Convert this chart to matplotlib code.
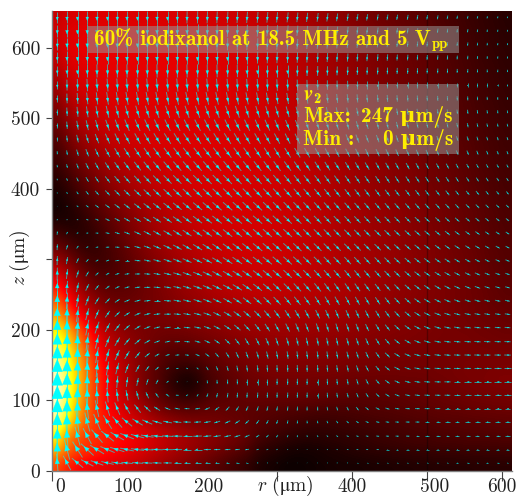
import numpy as np
import matplotlib
matplotlib.use("Agg")
import matplotlib.pyplot as plt
from matplotlib.collections import LineCollection, PolyCollection
from matplotlib.patches import Rectangle
from matplotlib.transforms import ScaledTranslation

plt.rcParams['font.family'] = ['cmr10', 'DejaVu Serif']
plt.rcParams['mathtext.fontset'] = 'cm'
plt.rcParams['axes.formatter.use_mathtext'] = True

# grid of the arrows (um)
r_col = [7, 20, 34, 47, 60, 74, 87, 100, 114, 127, 140, 154, 167, 180, 194, 207, 220, 234, 247, 260, 274, 287, 300,
         314, 327, 340, 354, 367, 380, 394, 407, 420, 434, 447, 460, 474, 487, 500, 514, 527, 540, 554, 567, 580, 594, 607]
z_row = [643, 624, 605, 586, 567, 547, 528, 509, 490, 471, 451, 432, 413, 394, 375, 356, 337,
         317, 298, 279, 260, 241, 222, 203, 183, 164, 145, 126, 107, 88, 69, 49, 30, 11]

# speed in um/s, estimated from colour and arrow length (top row first)
speed_rows = [
    [72,78,80,81,81, 81,81,81,80,80, 80,79,79,78,78, 77,76,75,74,73, 71,69,67,65,63, 60,57,54,51,48, 45,42,39,37,35, 33,31,29,26,24, 22,19,17,15,13, 11],
    [76,82,84,85,85, 85,85,85,84,84, 84,83,83,82,82, 81,80,79,78,77, 75,73,71,69,66, 63,60,57,54,51, 48,45,42,40,37, 35,33,31,28,26, 23,21,18,16,14, 12],
    [74,82,85,86,86, 86,86,86,86,85, 85,85,84,84,83, 82,81,80,79,78, 76,74,72,70,67, 64,61,58,55,52, 49,46,43,41,38, 36,34,32,29,27, 24,22,19,17,15, 13],
    [70,80,84,85,86, 86,86,86,86,85, 85,85,85,84,84, 83,82,81,80,79, 77,75,73,71,68, 65,62,59,56,53, 50,47,44,42,39, 37,35,33,30,28, 25,23,20,18,16, 14],
    [64,76,81,83,84, 85,85,85,85,85, 85,85,85,84,84, 83,82,81,80,79, 78,76,74,72,69, 66,63,60,57,54, 51,48,45,43,40, 38,36,33,31,29, 26,24,21,19,17, 15],
    [57,70,77,80,82, 83,84,84,84,84, 84,84,84,84,84, 83,82,81,80,79, 78,76,74,72,70, 67,64,61,58,55, 52,49,46,44,41, 39,37,34,32,30, 27,25,22,20,18, 16],
    [49,63,71,76,79, 81,82,83,83,83, 83,83,83,83,83, 83,82,81,80,79, 78,76,74,72,70, 67,64,61,58,55, 53,50,47,45,42, 40,38,35,33,31, 28,26,23,21,19, 17],
    [41,55,65,71,75, 78,80,81,82,82, 82,82,82,82,82, 82,82,81,80,79, 78,76,74,72,70, 68,65,62,59,56, 53,50,48,46,43, 41,39,36,34,32, 29,27,24,22,20, 18],
    [34,47,58,65,70, 74,77,79,80,81, 81,81,81,81,81, 81,81,81,80,79, 78,77,75,73,71, 68,65,62,59,57, 54,51,49,47,44, 42,40,37,35,33, 30,28,25,23,21, 19],
    [27,39,50,58,64, 69,73,75,77,79, 80,80,81,81,81, 81,81,81,80,79, 78,77,75,73,71, 68,66,63,60,58, 55,52,50,48,45, 43,41,38,36,34, 31,29,26,24,22, 20],
    [21,31,42,50,57, 63,68,71,74,76, 78,79,80,80,81, 81,81,81,80,79, 78,77,75,73,71, 69,66,63,61,58, 56,53,51,48,46, 44,42,39,37,35, 32,30,27,25,23, 21],
    [16,25,34,43,50, 56,62,66,70,73, 75,77,78,79,80, 80,81,81,80,79, 78,77,76,74,72, 69,67,64,61,59, 56,54,52,49,47, 45,43,40,38,36, 33,31,28,26,24, 22],
    [11,18,27,35,43, 50,56,61,65,69, 72,74,76,78,79, 80,80,80,80,79, 78,77,76,74,72, 70,67,65,62,60, 57,55,52,50,48, 46,44,41,39,37, 34,32,29,27,25, 23],
    [6,12,20,28,36, 43,49,55,60,64, 68,71,74,76,77, 78,79,80,79,79, 78,77,76,74,72, 70,68,65,63,60, 58,56,53,51,49, 47,45,42,40,38, 35,33,31,28,26, 24],
    [2,7,14,21,29, 36,43,49,55,60, 64,68,71,73,75, 77,78,79,79,79, 78,77,76,74,73, 70,68,66,63,61, 58,56,54,52,50, 48,46,43,41,39, 36,34,32,29,27, 25],
    [9,7,10,16,23, 30,37,44,50,56, 61,65,68,71,73, 75,77,78,78,78, 78,77,76,74,73, 71,69,66,64,61, 59,57,55,53,51, 49,47,44,42,40, 37,35,33,30,28, 26],
    [22,16,12,13,18, 25,32,39,46,52, 57,61,65,68,71, 73,75,76,77,78, 78,77,76,75,73, 71,69,67,64,62, 60,58,56,54,52, 50,48,45,43,41, 38,36,34,31,29, 27],
    [38,30,21,16,17, 22,28,34,41,47, 53,58,62,65,68, 71,73,75,76,77, 77,77,76,75,73, 71,69,67,65,63, 61,59,57,55,53, 50,48,46,44,41, 39,37,35,32,30, 28],
    [58,46,33,24,20, 22,26,31,37,43, 48,53,58,62,65, 68,71,73,75,76, 76,76,75,74,73, 71,69,67,65,63, 61,59,57,55,53, 51,49,47,44,42, 40,38,36,33,31, 29],
    [82,64,47,35,27, 25,27,30,34,39, 44,49,54,58,62, 65,68,70,72,73, 74,74,74,73,72, 70,68,67,65,63, 61,59,57,55,53, 51,49,47,45,43, 41,39,37,34,32, 30],
    [105,84,62,47,37, 32,31,32,35,39, 43,47,51,55,58, 62,65,67,69,70, 71,71,71,70,69, 68,67,65,63,62, 60,58,56,54,52, 50,49,47,45,43, 41,39,37,35,33, 31],
    [132,106,80,62,49, 41,37,37,38,40, 42,45,48,51,54, 57,60,62,64,66, 67,67,67,67,66, 65,64,63,61,60, 58,56,55,53,51, 50,48,46,45,43, 41,39,38,36,34, 33],
    [160,128,100,79,62, 51,45,42,41,41, 42,43,45,47,49, 52,54,57,59,60, 61,62,62,62,61, 60,60,59,58,56, 55,53,52,50,49, 48,46,45,44,42, 41,40,38,37,36, 35],
    [190,165,130,102,80, 63,54,48,44,42, 41,40,41,42,44, 46,48,51,53,55, 56,57,57,57,57, 56,56,55,54,53, 52,50,49,48,47, 46,45,44,43,42, 41,41,40,39,38, 37],
    [210,185,150,118,92, 74,62,54,48,42, 38,35,34,35,37, 40,42,45,47,49, 50,51,52,52,52, 52,51,51,50,49, 48,47,46,45,44, 44,43,43,42,42, 42,42,41,41,40, 40],
    [228,200,165,130,104, 83,70,58,49,41, 33,27,25,25,28, 32,35,39,42,44, 46,47,48,48,48, 48,47,47,46,45, 44,44,43,43,42, 42,42,41,41,41, 42,42,42,42,42, 42],
    [238,210,172,137,110, 90,76,62,50,38, 30,22,16,13,16, 25,30,34,37,40, 42,43,44,44,44, 44,44,43,43,42, 41,41,40,40,40, 40,40,40,41,41, 42,43,43,43,44, 44],
    [245,215,175,140,112, 92,78,64,52,38, 30,18,8,2,8, 20,26,30,33,36, 38,39,40,40,40, 40,39,39,38,37, 36,36,36,36,36, 37,37,38,39,40, 41,42,43,44,45, 45],
    [247,212,172,138,112, 93,80,68,56,43, 34,26,19,15,18, 25,29,31,33,34, 35,35,35,35,35, 35,34,33,32,31, 30,30,31,31,32, 33,34,35,36,37, 38,39,40,41,41, 42],
    [240,205,165,133,110, 96,86,76,66,55, 45,38,34,32,33, 35,35,34,33,32, 31,30,29,28,27, 26,25,24,25,25, 26,27,28,28,29, 30,31,32,33,34, 34,35,36,36,37, 37],
    [222,188,152,127,112, 102,94,86,78,70, 63,57,52,48,45, 43,41,38,36,33, 30,27,25,22,20, 18,17,17,18,19, 20,21,22,23,24, 25,26,27,28,29, 29,30,30,31,31, 32],
    [192,148,126,115,110, 105,100,94,88,82, 76,70,64,59,55, 51,47,43,39,34, 25,21,18,15,13, 12,12,13,14,15, 16,17,19,20,21, 22,23,23,24,25, 25,26,26,26,27, 27],
    [165,135,120,112,106, 100,96,90,84,78, 72,66,61,56,51, 46,41,36,31,26, 16,12,9,6,4, 4,5,7,8,10, 12,13,14,15,16, 17,18,18,19,19, 19,20,20,20,20, 21],
    [120,105,95,90,86, 82,78,74,70,64, 58,53,48,43,38, 33,28,23,19,15, 8,5,3,1,1, 2,3,4,5,5, 5,6,7,7,8, 8,9,9,10,10, 10,10,11,11,11, 11],
]

# arrow direction on screen in degrees, 0 = towards +r, 90 = towards +z
angle_rows = [
    [-90,-90,-90,-90,-90, -90,-90,-90,-90,-90, -90,-90,-90,-91,-91, -92,-92,-93,-93,-94, -94,-95,-95,-96,-96, -97,-97,-98,-98,-98, -99,-99,-99,-100,-100, -100,-100,-100,-100,-100, -100,-100,-100,-100,-100, -100],
    [-90,-90,-90,-90,-90, -90,-90,-90,-90,-90, -90,-90,-90,-90,-90, -91,-91,-92,-92,-93, -93,-94,-94,-95,-95, -96,-96,-96,-97,-97, -97,-97,-98,-98,-98, -98,-98,-98,-98,-98, -98,-98,-98,-98,-98, -98],
    [-90,-90,-90,-90,-90, -90,-90,-90,-90,-90, -90,-90,-90,-90,-90, -90,-91,-91,-91,-92, -92,-93,-93,-94,-94, -94,-95,-95,-95,-96, -96,-96,-96,-96,-96, -96,-96,-96,-96,-96, -96,-96,-96,-96,-96, -96],
    [-90,-90,-90,-90,-90, -90,-90,-90,-90,-90, -90,-90,-90,-90,-90, -90,-90,-90,-90,-90, -91,-91,-92,-92,-92, -93,-93,-93,-94,-94, -94,-94,-94,-94,-94, -94,-94,-94,-94,-94, -94,-94,-94,-94,-94, -94],
    [-90,-90,-90,-90,-89, -89,-89,-89,-89,-89, -89,-89,-89,-89,-89, -89,-89,-89,-89,-90, -90,-90,-90,-90,-91, -91,-91,-91,-92,-92, -92,-92,-92,-92,-92, -92,-92,-92,-92,-92, -92,-92,-92,-92,-92, -92],
    [-90,-89,-88,-87,-86, -86,-86,-86,-85,-85, -85,-85,-85,-85,-85, -85,-85,-85,-86,-86, -86,-87,-87,-87,-88, -88,-88,-89,-89,-89, -90,-90,-90,-90,-90, -90,-90,-90,-90,-90, -90,-90,-90,-90,-90, -90],
    [-90,-88,-86,-84,-83, -82,-81,-80,-80,-79, -79,-79,-79,-78,-78, -78,-78,-79,-79,-79, -80,-80,-81,-81,-82, -82,-83,-83,-84,-84, -85,-85,-85,-86,-86, -86,-87,-87,-87,-87, -87,-87,-88,-88,-88, -88],
    [-90,-87,-84,-81,-79, -77,-75,-74,-73,-72, -72,-71,-71,-71,-70, -70,-70,-71,-71,-72, -72,-73,-73,-74,-75, -75,-76,-77,-78,-78, -79,-79,-80,-80,-81, -81,-82,-82,-82,-83, -83,-83,-83,-84,-84, -84],
    [-90,-85,-80,-77,-74, -71,-69,-68,-66,-65, -65,-64,-64,-63,-63, -63,-63,-64,-64,-65, -66,-66,-67,-68,-69, -70,-71,-72,-72,-73, -74,-74,-75,-75,-76, -76,-77,-77,-77,-78, -78,-78,-78,-78,-79, -79],
    [-90,-83,-77,-72,-69, -66,-64,-62,-61,-60, -59,-58,-58,-57,-57, -57,-58,-58,-59,-60, -60,-61,-62,-63,-64, -65,-66,-66,-67,-68, -69,-69,-70,-70,-71, -71,-71,-72,-72,-72, -73,-73,-73,-73,-73, -73],
    [-88,-80,-73,-68,-64, -61,-59,-57,-56,-55, -54,-53,-53,-52,-52, -52,-53,-53,-54,-55, -56,-57,-58,-58,-59, -60,-61,-62,-63,-63, -64,-65,-65,-65,-66, -66,-67,-67,-67,-67, -67,-68,-68,-68,-68, -68],
    [-85,-76,-69,-63,-60, -57,-55,-53,-52,-51, -50,-49,-49,-49,-49, -49,-49,-50,-50,-51, -52,-53,-54,-54,-55, -56,-57,-58,-58,-59, -60,-60,-61,-61,-61, -62,-62,-62,-62,-62, -62,-62,-62,-62,-62, -62],
    [-78,-70,-63,-58,-55, -52,-50,-49,-48,-47, -46,-46,-46,-45,-45, -46,-46,-46,-47,-48, -48,-49,-50,-51,-52, -52,-53,-54,-55,-55, -56,-56,-57,-57,-57, -57,-57,-57,-57,-57, -57,-57,-56,-56,-56, -56],
    [-65,-58,-54,-50,-48, -46,-45,-44,-43,-43, -43,-43,-43,-43,-43, -43,-43,-44,-44,-45, -46,-46,-47,-48,-49, -49,-50,-51,-51,-52, -52,-53,-53,-53,-53, -53,-53,-53,-52,-52, -52,-51,-51,-51,-51, -50],
    [-40,-38,-38,-37,-37, -37,-37,-37,-38,-38, -38,-39,-39,-40,-40, -40,-41,-41,-42,-43, -43,-44,-45,-46,-46, -47,-48,-48,-49,-49, -49,-50,-50,-50,-49, -49,-49,-48,-48,-47, -47,-46,-46,-45,-45, -44],
    [60,-5,-18,-22,-24, -26,-28,-30,-31,-33, -34,-35,-36,-37,-38, -38,-39,-40,-40,-41, -41,-42,-43,-44,-45, -45,-46,-47,-47,-47, -47,-47,-47,-46,-46, -45,-44,-44,-43,-43, -42,-41,-41,-40,-39, -38],
    [85,60,28,8,-3, -12,-17,-22,-25,-28, -30,-31,-33,-34,-35, -36,-37,-38,-39,-40, -40,-41,-42,-42,-43, -44,-44,-45,-45,-45, -45,-45,-44,-44,-43, -42,-41,-41,-40,-39, -38,-37,-36,-35,-34, -33],
    [87,72,52,30,15, 4,-4,-11,-16,-20, -23,-26,-28,-30,-32, -33,-35,-36,-37,-38, -39,-40,-41,-42,-43, -44,-44,-45,-45,-45, -45,-45,-44,-43,-42, -41,-40,-38,-37,-36, -34,-33,-31,-30,-29, -28],
    [88,80,65,47,32, 20,8,0,-7,-12, -15,-19,-22,-24,-27, -29,-31,-33,-35,-36, -38,-39,-41,-42,-43, -44,-45,-46,-46,-47, -47,-47,-46,-45,-43, -41,-39,-37,-35,-33, -31,-29,-27,-26,-24, -23],
    [89,83,72,58,43, 30,18,9,1,-5, -10,-14,-17,-20,-23, -26,-29,-31,-33,-35, -37,-39,-41,-43,-44, -45,-47,-48,-49,-50, -50,-49,-48,-46,-44, -41,-38,-36,-33,-30, -28,-26,-24,-22,-20, -19],
    [90,85,76,64,50, 38,26,16,8,1, -5,-9,-13,-17,-20, -23,-26,-29,-32,-35, -38,-40,-43,-45,-47, -49,-51,-53,-54,-55, -55,-54,-52,-49,-46, -42,-38,-35,-31,-28, -25,-23,-21,-19,-17, -16],
    [90,86,80,70,58, 46,35,24,15,7, 0,-5,-10,-14,-18, -22,-26,-30,-34,-37, -41,-44,-47,-50,-52, -54,-57,-59,-61,-61, -61,-59,-56,-52,-47, -42,-36,-31,-27,-23, -20,-18,-16,-14,-13, -12],
    [90,88,82,75,66, 55,44,33,23,14, 7,1,-5,-10,-15, -20,-26,-31,-36,-41, -45,-49,-53,-56,-59, -62,-64,-66,-67,-67, -66,-63,-59,-54,-47, -40,-33,-27,-22,-18, -15,-13,-11,-10,-9, -8],
    [90,89,85,79,71, 62,52,42,32,22, 14,7,0,-6,-12, -19,-27,-34,-41,-47, -52,-57,-61,-64,-67, -69,-71,-72,-72,-71, -69,-65,-59,-52,-44, -36,-28,-22,-17,-13, -10,-8,-7,-6,-5, -5],
    [90,89,87,82,76, 68,59,50,40,30, 21,12,3,-6,-15, -25,-35,-44,-52,-58, -63,-67,-71,-74,-76, -77,-78,-78,-77,-75, -71,-66,-58,-49,-39, -30,-22,-16,-11,-8, -6,-5,-4,-3,-3, -2],
    [90,90,88,85,80, 74,67,59,50,40, 30,19,7,-8,-24, -38,-49,-58,-65,-70, -74,-77,-80,-82,-83, -83,-83,-82,-80,-77, -72,-65,-55,-44,-33, -24,-16,-11,-7,-5, -3,-2,-2,-1,-1, -1],
    [90,90,89,87,84, 80,75,69,62,53, 41,25,5,-22,-45, -60,-69,-75,-79,-82, -84,-86,-87,-88,-88, -88,-87,-85,-82,-78, -72,-63,-52,-40,-28, -19,-12,-7,-4,-2, -1,-1,0,0,0, 0],
    [90,90,90,89,88, 87,85,82,78,72, 62,40,10,-70,-85, -87,-88,-89,-89,-90, -90,-90,-91,-91,-91, -91,-90,-88,-85,-80, -73,-63,-50,-37,-25, -15,-9,-5,-3,-1, 0,0,0,0,0, 0],
    [90,90,91,92,93, 95,97,101,106,114, 125,145,175,215,240, 252,258,262,265,266, 267,268,268,268,268, 268,270,273,278,285, 292,302,314,326,338, 347,353,356,358,359, 0,0,0,0,0, 0],
    [90,91,93,97,102, 107,113,120,128,137, 148,158,168,178,190, 203,217,228,237,245, 251,256,260,263,265, 268,272,278,286,296, 308,321,332,342,350, 354,357,358,359,0, 0,0,0,0,0, 0],
    [90,93,98,105,113, 122,131,140,148,156, 163,169,174,178,183, 189,196,204,213,223, 233,243,252,260,266, 272,281,292,305,317, 329,339,347,352,356, 358,359,0,0,0, 0,0,0,0,0, 0],
    [90,95,105,118,130, 141,150,158,165,170, 174,177,179,180,182, 185,188,192,197,204, 213,224,238,252,265, 280,298,313,326,336, 344,350,354,357,358, 359,0,0,0,0, 0,0,0,0,0, 0],
    [92,105,122,137,148, 157,163,168,172,175, 177,178,179,180,180, 181,182,183,185,188, 192,198,208,225,250, 290,318,335,346,352, 356,358,359,0,0, 0,0,0,0,0, 0,0,0,0,0, 0],
    [95,118,140,152,160, 167,171,174,176,177, 178,179,180,180,180, 180,180,180,180,180, 181,183,187,195,215, 290,340,352,357,359, 0,0,0,0,0, 0,0,0,0,0, 0,0,0,0,0, 0],
]

x_ticks = [0, 100, 200, 300, 400, 500, 600]
x_labels = ['0', '100', '200', '', '400', '500', '600']
x_label_shift = [8, 1, 7, 0, 0, 7, 0]  # px, the labels are not centred in the original
y_ticks = [0, 100, 200, 300, 400, 500, 600]
y_labels = ['0', '100', '200', '', '400', '500', '600']

W, H = 519, 496
fig = plt.figure(figsize=(W / 100, H / 100), dpi=100)
ax = fig.add_axes([52 / W, 1 - 470.7 / H, 460 / W, 459.7 / H])
r_max, z_max = 613, 652
sx, sz = 460 / r_max, 459.7 / z_max  # px per um


def box(x0, y0, x1, y1):
    # grey see-through box, coordinates in px from the top left
    fig.add_artist(Rectangle((x0 / W, 1 - y1 / H), (x1 - x0) / W, (y1 - y0) / H, transform=fig.transFigure,
                             facecolor=(0.59, 0.59, 0.59), alpha=0.55, edgecolor='none', zorder=5))


def label(x, y, s, ha='left', size=15.3):
    fig.text(x / W, 1 - y / H, s, color='#ffee00', fontsize=size, ha=ha, va='baseline', zorder=6,
             family=['cmb10', 'DejaVu Serif'], fontweight='bold')


speed = np.array(speed_rows, dtype=float)
angle = np.radians(np.array(angle_rows, dtype=float))

ax.imshow(speed, extent=(0, r_max, 0, z_max), origin='upper', aspect='auto', cmap='hot', vmin=0, vmax=258,
          interpolation='bicubic')
ax.axvline(500, color='k', alpha=0.3, lw=1)

# arrows: thin shaft + head scaled with the speed, everything in px then back to um
R, Z = np.meshgrid(r_col, z_row)
length = speed * 0.155
ux, uy = np.cos(angle), np.sin(angle)
shafts = []
heads = []
for i in range(speed.shape[0]):
    for j in range(speed.shape[1]):
        L = length[i, j]
        x0, y0 = R[i, j] * sx, Z[i, j] * sz
        dx, dy = ux[i, j], uy[i, j]
        shafts.append([((x0 - 0.5 * L * dx) / sx, (y0 - 0.5 * L * dy) / sz),
                       ((x0 + 0.5 * L * dx) / sx, (y0 + 0.5 * L * dy) / sz)])
        w = 10 * (speed[i, j] / 230) ** 1.2
        hl = 1.2 * w
        tip = (x0 + 0.25 * L * dx, y0 + 0.25 * L * dy)
        bx, by = tip[0] - hl * dx, tip[1] - hl * dy
        heads.append([(tip[0] / sx, tip[1] / sz),
                      ((bx - 0.5 * w * dy) / sx, (by + 0.5 * w * dx) / sz),
                      ((bx + 0.5 * w * dy) / sx, (by - 0.5 * w * dx) / sz)])
ax.add_collection(LineCollection(shafts, colors='cyan', linewidths=0.7, alpha=0.6, zorder=3))
ax.add_collection(PolyCollection(heads, facecolors='cyan', edgecolors='cyan', linewidths=0.2, zorder=4))

ax.set_xlim(0, r_max)
ax.set_ylim(0, z_max)
for s in ['top', 'right']:
    ax.spines[s].set_visible(False)
for s in ['left', 'bottom']:
    ax.spines[s].set_color('#808080')
    ax.spines[s].set_linewidth(1)

ax.set_xticks(x_ticks)
ax.set_xticklabels(x_labels, fontsize=14, color='#222222')
ax.set_yticks(y_ticks)
ax.set_yticklabels(y_labels, fontsize=14, color='#222222')
ax.tick_params(axis='x', length=7, width=0.8, color='#444444', pad=-2)
ax.tick_params(axis='y', length=4.5, width=0.8, color='#444444', pad=4)
for t, lab, off in zip(ax.xaxis.get_major_ticks(), ax.get_xticklabels(), x_label_shift):
    lab.set_transform(lab.get_transform() + ScaledTranslation(off / 100, 0, fig.dpi_scale_trans))
    if t.get_loc() in (100, 200):
        t.tick1line.set_visible(False)

ax.set_xlabel('$r\\ (\\mathrm{\u03bcm})$', fontsize=14, color='#222222', va='top')
ax.xaxis.set_label_coords(0.507, -0.006)
ax.set_ylabel('$z\\ (\\mathrm{\u03bcm})$', fontsize=14, color='#222222', va='center')
ax.yaxis.set_label_coords(-0.07, 0.463)

box(87.5, 26, 458.5, 53)
box(297, 84, 459, 154)
label(94, 45, '60% iodixanol at 18.5 MHz and 5 V')
label(432, 48, 'pp', size=10.5)
label(303, 100, r'$\mathbfit{v}$', size=15)
label(313, 103, '2', size=10.5)
label(303, 122, 'Max:')
label(453, 122, '247 \u03bcm/s', ha='right')
label(303, 145, 'Min :')
label(453, 145, '0 \u03bcm/s', ha='right')

fig.savefig('out.png', dpi=100)
